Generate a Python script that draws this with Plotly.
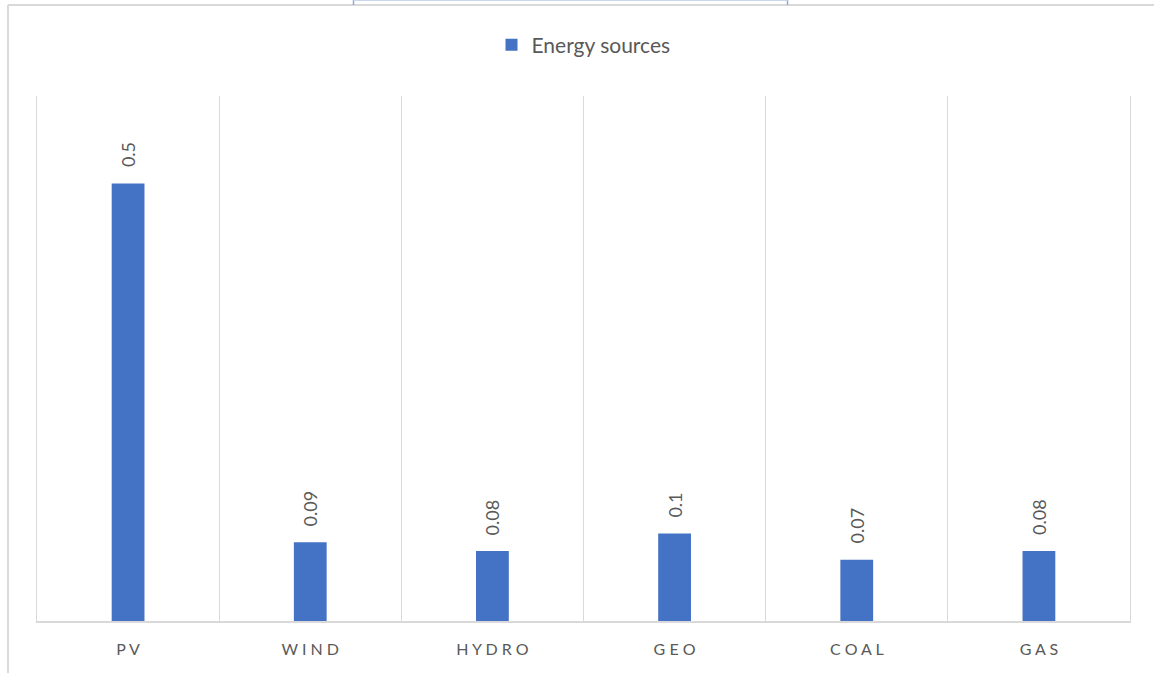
import plotly.graph_objects as go

categories = ["PV", "WIND", "HYDRO", "GEO", "COAL", "GAS"]
values = [0.5, 0.09, 0.08, 0.1, 0.07, 0.08]
series_name = "Energy sources"
value_labels = [str(v) for v in values]
tick_labels = [" ".join(list(c)) for c in categories]

BAR = "#4472C4"
GRID = "#D9D9D9"
TXT = "#595959"
FONT = "Lato"

W, H = 1154, 673
L, R, T, B = 37, 24, 96, 52
pw, ph = W - L - R, H - T - B

def px_x(p):
    return (p - L) / pw

def px_y(p):
    return (H - B - p) / ph

fig = go.Figure()
fig.add_trace(go.Bar(
    x=categories, y=values, name=series_name,
    marker=dict(color=BAR, line=dict(width=0)),
    width=0.18, showlegend=True,
))

for c, v, t in zip(categories, values, value_labels):
    fig.add_annotation(
        x=c, y=v, text=t, textangle=-90, showarrow=False,
        yanchor="bottom", xanchor="center", yshift=14,
        font=dict(family=FONT, size=18, color=TXT),
    )

# outer chart-area border (document crop) and stray blue frame lines
shapes = [
    dict(type="line", xref="paper", yref="paper", x0=px_x(8), x1=px_x(8), y0=px_y(5), y1=px_y(H + 5), line=dict(color=GRID, width=2)),
    dict(type="line", xref="paper", yref="paper", x0=px_x(8), x1=px_x(W + 5), y0=px_y(5), y1=px_y(5), line=dict(color=GRID, width=2)),
    dict(type="line", xref="paper", yref="paper", x0=px_x(353.5), x1=px_x(353.5), y0=px_y(0), y1=px_y(5), line=dict(color="#8EAADB", width=1.5)),
    dict(type="line", xref="paper", yref="paper", x0=px_x(787.5), x1=px_x(787.5), y0=px_y(0), y1=px_y(5), line=dict(color="#8EAADB", width=1.5)),
    dict(type="line", xref="paper", yref="paper", x0=px_x(353.5), x1=px_x(787.5), y0=px_y(0.5), y1=px_y(0.5), line=dict(color="#C9D6EE", width=1)),
]

fig.update_layout(
    width=W, height=H,
    margin=dict(l=L, r=R, t=T, b=B, pad=0),
    paper_bgcolor="white", plot_bgcolor="white",
    shapes=shapes,
    showlegend=True,
    legend=dict(
        orientation="h", x=0.5, xanchor="center", y=px_y(45), yanchor="middle",
        font=dict(family=FONT, size=21, color=TXT),
        itemwidth=30,
    ),
    xaxis=dict(
        type="category", range=[-0.5, len(categories) - 0.5],
        tickmode="array", tickvals=categories, ticktext=tick_labels,
        tickson="boundaries", ticks="", showgrid=True, gridcolor=GRID, gridwidth=1,
        showline=True, linecolor=GRID, linewidth=2, mirror=False,
        tickfont=dict(family=FONT, size=16, color=TXT),
        ticklabelstandoff=13, zeroline=False,
    ),
    yaxis=dict(
        range=[0, 0.6], showgrid=False, showticklabels=False, ticks="",
        zeroline=False, showline=True, mirror=True, linecolor=GRID, linewidth=1,
    ),
)

fig.write_html("out.html")
